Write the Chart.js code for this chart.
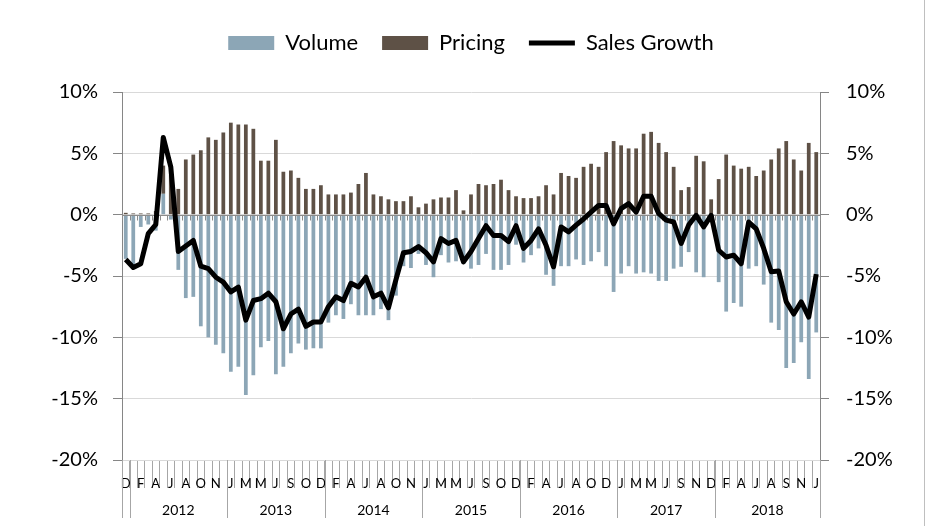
<!DOCTYPE html>
<html>
<head>
<meta charset="utf-8">
<script src="https://cdn.jsdelivr.net/npm/chart.js@4.4.1/dist/chart.umd.min.js"></script>
<style>
  html, body { margin: 0; padding: 0; background: #fff; }
</style>
</head>
<body>
<canvas id="chart" width="927" height="526"></canvas>
<script>
// 4-weekly periods, Dec 2011 .. Jan 2019 (13 periods a year)
const monthLetters = ['D',
  'F','A','J','A','O','N',
  'J','M','M','J','S','O','D',
  'F','A','J','A','O','N',
  'J','M','M','J','S','O','D',
  'F','A','J','A','O','D',
  'J','M','M','J','S','N','D',
  'F','A','J','A','S','N',
  'J'];
const yearLabels = ['2012','2013','2014','2015','2016','2017','2018'];
const yearStarts = [1, 14, 27, 40, 53, 66, 79];

const volume = [
  -3.6, -4.3, -1.0, -0.8, -1.3, 1.7, -0.4, -4.5, -6.8, -6.7,
  -9.1, -10.0, -10.6, -11.3, -12.8, -12.4, -14.7, -13.1, -10.8, -10.3,
  -13.0, -12.4, -11.3, -10.5, -11.0, -10.9, -10.9, -8.8, -8.2, -8.5,
  -7.3, -8.2, -8.2, -8.2, -7.7, -8.6, -6.6, -4.2, -4.35, -3.2,
  -4.1, -5.1, -3.3, -3.9, -3.8, -4.0, -4.4, -4.1, -3.2, -4.5,
  -4.5, -4.1, -2.45, -3.9, -3.3, -2.75, -4.9, -5.8, -4.2, -4.2,
  -3.65, -4.1, -3.8, -3.05, -4.2, -6.3, -4.8, -4.2, -4.8, -4.7,
  -4.8, -5.4, -5.4, -4.4, -4.25, -3.05, -4.7, -5.1, -0.45, -5.5,
  -7.9, -7.2, -7.5, -4.4, -4.2, -5.7, -8.8, -9.4, -12.5, -12.1,
  -10.4, -13.4, -9.6
];
const pricing = [
  0.15, 0.1, 0.1, 0.1, 0.3, 2.3, 4.0, 2.1, 4.5, 4.9,
  5.25, 6.3, 6.1, 6.7, 7.5, 7.35, 7.35, 7.0, 4.4, 4.4,
  6.1, 3.5, 3.6, 3.0, 2.1, 2.1, 2.4, 1.65, 1.65, 1.65,
  1.8, 2.5, 3.4, 1.65, 1.5, 1.25, 1.1, 1.1, 1.5, 0.6,
  0.9, 1.25, 1.4, 1.4, 2.0, 0.35, 1.65, 2.5, 2.4, 2.5,
  2.85, 2.0, 1.5, 1.35, 1.35, 1.5, 2.4, 1.65, 3.4, 3.15,
  3.0, 3.9, 4.15, 3.9, 5.1, 6.0, 5.65, 5.4, 5.4, 6.6,
  6.75, 5.85, 5.1, 3.9, 2.0, 2.25, 4.8, 4.35, 1.25, 2.9,
  4.9, 4.0, 3.75, 3.9, 3.15, 3.6, 4.5, 5.4, 6.0, 4.5,
  3.6, 5.85, 5.1
];
const salesGrowth = [
  -3.65, -4.3, -4.0, -1.55, -0.8, 6.3, 3.9, -3.0, -2.55, -2.1,
  -4.2, -4.4, -5.1, -5.5, -6.3, -5.9, -8.6, -7.0, -6.85, -6.4,
  -7.1, -9.3, -8.1, -7.7, -9.1, -8.75, -8.75, -7.5, -6.7, -7.0,
  -5.6, -5.9, -5.1, -6.7, -6.4, -7.6, -5.3, -3.1, -3.0, -2.6,
  -3.1, -3.85, -1.95, -2.35, -2.1, -3.85, -3.0, -1.95, -0.9, -1.7,
  -1.7, -2.2, -0.9, -2.75, -2.1, -1.15, -2.5, -4.25, -1.0, -1.4,
  -0.85, -0.35, 0.2, 0.75, 0.75, -0.75, 0.5, 0.9, 0.2, 1.5,
  1.5, 0.1, -0.45, -0.6, -2.35, -0.85, -0.05, -1.0, -0.05, -2.9,
  -3.45, -3.3, -4.0, -0.6, -1.15, -2.75, -4.65, -4.6, -7.1, -8.1,
  -7.1, -8.35, -4.85
];

const periods = volume.map((_, i) => i);
const FONT = "'Lato', sans-serif";
Chart.defaults.font.family = FONT;

// fixed legend height so the plot starts where the original does
const legendHeight = {
  id: 'legendHeight',
  beforeInit(chart) {
    const fit = chart.legend.fit;
    chart.legend.fit = function () {
      fit.call(this);
      this.height = 84;
    };
  }
};

// category axis through zero, with its little ticks
const zeroAxis = {
  id: 'zeroAxis',
  beforeDatasetDraw(chart, args) {
    if (args.index !== 2) return;
    const { ctx, chartArea, scales } = chart;
    const x = scales.x;
    const y0 = Math.round(scales.y.getPixelForValue(0)) + 0.5;
    const step = x.getPixelForValue(1) - x.getPixelForValue(0);
    ctx.save();
    ctx.strokeStyle = '#8c8c8c';
    ctx.lineWidth = 1;
    ctx.beginPath();
    ctx.moveTo(chartArea.left, y0);
    ctx.lineTo(chartArea.right, y0);
    for (let i = 0; i <= periods.length; i++) {
      const px = Math.round(x.getPixelForValue(i) - step / 2) + 0.5;
      ctx.moveTo(px, y0);
      ctx.lineTo(px, y0 + 5);
    }
    ctx.stroke();
    ctx.restore();
  }
};

// year row under the month letters
const yearRow = {
  id: 'yearRow',
  afterDraw(chart) {
    const { ctx, chartArea, scales } = chart;
    const x = scales.x;
    const step = x.getPixelForValue(1) - x.getPixelForValue(0);
    const edge = i => x.getPixelForValue(i) - step / 2;
    const top = chartArea.bottom;
    const bounds = [0, ...yearStarts, periods.length];
    ctx.save();
    ctx.strokeStyle = '#a6a6a6';
    ctx.lineWidth = 1;
    ctx.beginPath();
    bounds.forEach(b => {
      const px = Math.round(edge(b)) + 0.5;
      ctx.moveTo(px, top);
      ctx.lineTo(px, top + 58);
    });
    ctx.stroke();
    ctx.fillStyle = '#000';
    ctx.font = "14px 'Lato', sans-serif";
    ctx.textAlign = 'center';
    ctx.textBaseline = 'middle';
    yearLabels.forEach((lab, k) => {
      const a = edge(yearStarts[k]);
      const b = edge(k + 1 < yearStarts.length ? yearStarts[k + 1] : periods.length);
      ctx.fillText(lab, (a + b) / 2, top + 50);
    });
    // outer frame edge on the right
    ctx.strokeStyle = '#bfbfbf';
    ctx.beginPath();
    ctx.moveTo(924.5, 0);
    ctx.lineTo(924.5, 526);
    ctx.stroke();
    ctx.restore();
  }
};

const pct = v => v + '%';

new Chart(document.getElementById('chart'), {
  type: 'bar',
  data: {
    labels: periods,
    datasets: [
      {
        label: 'Volume',
        data: volume,
        backgroundColor: '#8ca6b6',
        borderWidth: 0,
        pointStyle: 'rect',
        stack: 'bars',
        order: 1,
        barPercentage: 0.5,
        categoryPercentage: 1
      },
      {
        label: 'Pricing',
        data: pricing,
        backgroundColor: '#5e5146',
        borderWidth: 0,
        pointStyle: 'rect',
        stack: 'bars',
        order: 1,
        barPercentage: 0.5,
        categoryPercentage: 1
      },
      {
        type: 'line',
        label: 'Sales Growth',
        data: salesGrowth,
        borderColor: '#000',
        backgroundColor: '#000',
        borderWidth: 5,
        pointRadius: 0,
        pointStyle: 'line',
        tension: 0,
        borderJoinStyle: 'round',
        stack: 'line',
        order: 0
      }
    ]
  },
  options: {
    responsive: false,
    animation: false,
    layout: { padding: { top: 8 } },
    plugins: {
      legend: {
        position: 'top',
        fullSize: false,
        labels: {
          usePointStyle: true,
          pointStyleWidth: 46,
          boxHeight: 14,
          padding: 24,
          color: '#000',
          font: { size: 22, family: FONT },
          sort: (a, b) => a.datasetIndex - b.datasetIndex
        }
      },
      tooltip: { enabled: false }
    },
    scales: {
      x: {
        stacked: true,
        offset: true,
        grid: {
          offset: true,
          drawOnChartArea: false,
          drawTicks: true,
          tickLength: 28,
          tickColor: '#a6a6a6'
        },
        border: { display: false },
        ticks: {
          autoSkip: false,
          maxRotation: 0,
          minRotation: 0,
          padding: -12,
          color: '#000',
          font: { size: 13, family: FONT },
          callback: (v, i) => (i % 2 === 0 ? monthLetters[i / 2] : '')
        },
        afterFit: s => { s.height = 66; }
      },
      y: {
        position: 'left',
        stacked: true,
        min: -20,
        max: 10,
        ticks: {
          stepSize: 5,
          padding: 15,
          color: '#000',
          font: { size: 20, family: FONT },
          callback: pct
        },
        grid: { color: '#d9d9d9', tickColor: '#868686', tickLength: 9 },
        border: { color: '#868686' },
        afterFit: s => { s.width = 122; }
      },
      y2: {
        position: 'right',
        min: -20,
        max: 10,
        ticks: {
          stepSize: 5,
          padding: 17,
          color: '#000',
          font: { size: 20, family: FONT },
          callback: pct
        },
        grid: { drawOnChartArea: false, tickColor: '#868686', tickLength: 9 },
        border: { color: '#868686' },
        afterFit: s => { s.width = 107; }
      }
    }
  },
  plugins: [legendHeight, zeroAxis, yearRow]
});
</script>
</body>
</html>
